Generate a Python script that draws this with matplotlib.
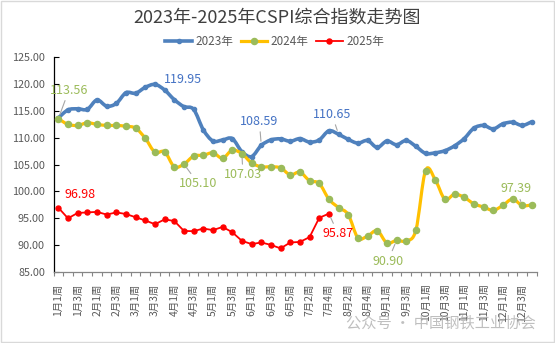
import numpy as np
import matplotlib
matplotlib.use("Agg")
from matplotlib import pyplot as plt
from matplotlib.path import Path
from matplotlib.patches import PathPatch, Rectangle
from matplotlib.lines import Line2D

plt.rcParams['font.family'] = ['Noto Sans CJK SC', 'DejaVu Sans']

# weekly categories: weeks per month
weeks_per_month = [4, 4, 4, 4, 4, 5, 4, 5, 4, 4, 4, 4]
week_labels = [f"{m + 1}月{w + 1}周" for m, n in enumerate(weeks_per_month) for w in range(n)]

cspi_2023 = [113.7, 115.2, 115.4, 115.3, 117.05, 115.9, 116.4, 118.4, 118.3, 119.4,
             119.95, 118.9, 117.1, 115.8, 115.3, 111.5, 109.4, 109.6, 109.85, 107.4,
             106.5, 108.59, 109.6, 109.8, 109.35, 109.85, 109.2, 109.6, 111.3, 110.65,
             109.7, 109.0, 109.5, 108.2, 109.4, 108.7, 109.5, 108.4, 107.1, 107.2,
             107.6, 108.5, 109.85, 111.8, 112.3, 111.65, 112.6, 112.9, 112.3, 113.0]
cspi_2024 = [113.56, 112.5, 112.3, 112.8, 112.5, 112.3, 112.3, 112.15, 111.8, 109.9,
             107.3, 107.4, 104.6, 105.10, 106.6, 106.75, 107.2, 106.2, 107.7, 107.03,
             105.3, 104.6, 104.6, 104.4, 103.1, 103.6, 102.0, 101.5, 98.55, 97.0,
             95.7, 91.35, 91.7, 92.7, 90.4, 90.90, 90.8, 92.8, 103.9, 102.2,
             98.55, 99.5, 98.9, 97.7, 97.1, 96.5, 97.4, 98.6, 97.39, 97.5]
cspi_2025 = [96.98, 95.0, 96.0, 96.1, 96.2, 95.7, 96.1, 95.8, 95.2, 94.6,
             93.9, 94.8, 94.5, 92.65, 92.6, 93.1, 92.8, 93.4, 92.4, 90.8,
             90.2, 90.5, 90.05, 89.4, 90.5, 90.6, 91.5, 95.1, 95.87]

# (week index, label x, label y, leader line)
labels_2023 = [(10, 12.9, 120.8, False), (21, 20.8, 113.1, True), (29, 28.3, 114.4, True)]
labels_2024 = [(0, 1.1, 118.9, True), (13, 14.5, 101.4, True), (19, 19.1, 103.1, True),
               (35, 34.1, 87.0, True), (48, 47.4, 100.5, True)]
labels_2025 = [(0, 2.3, 99.4, False), (28, 28.95, 92.1, True)]

BLUE = '#4F81BD'
GOLD = '#FFC000'
GREEN = '#9BBB59'
RED = '#FF0000'


def smooth_path(x, y):
    # Catmull-Rom style bezier through the data points
    p = np.column_stack([x, y]).astype(float)
    ext = np.vstack([p[0], p, p[-1]])
    verts = [p[0]]
    codes = [Path.MOVETO]
    for i in range(len(p) - 1):
        p0, p1, p2, p3 = ext[i], ext[i + 1], ext[i + 2], ext[i + 3]
        verts += [p1 + (p2 - p0) / 6, p2 - (p3 - p1) / 6, p2]
        codes += [Path.CURVE4] * 3
    return Path(verts, codes)


fig = plt.figure(figsize=(5.55, 3.43), dpi=100)
ax = fig.add_axes([0.0964, 0.207, 0.8706, 0.626])

x23 = np.arange(len(cspi_2023))
x24 = np.arange(len(cspi_2024))
x25 = np.arange(len(cspi_2025))

ax.add_patch(PathPatch(smooth_path(x23, cspi_2023), fc='none', ec=BLUE, lw=2.6,
                       capstyle='round', joinstyle='round', zorder=2))
ax.plot(x23, cspi_2023, ls='none', marker='o', ms=3.0, color=BLUE, zorder=2)

ax.add_patch(PathPatch(smooth_path(x24, cspi_2024), fc='none', ec=GOLD, lw=2.3,
                       capstyle='round', joinstyle='round', zorder=3))
ax.plot(x24, cspi_2024, ls='none', marker='o', ms=4.4, color=GREEN, zorder=3)

ax.plot(x25, cspi_2025, color=RED, lw=1.3, marker='o', ms=3.6, zorder=4)

# data labels
for series, color, items in [(cspi_2023, '#4472C4', labels_2023),
                             (cspi_2024, GREEN, labels_2024),
                             (cspi_2025, RED, labels_2025)]:
    for idx, tx, ty, leader in items:
        props = dict(arrowstyle='-', color='#A6A6A6', lw=0.8, shrinkA=1, shrinkB=3) if leader else None
        ax.annotate(f"{series[idx]:.2f}", xy=(idx, series[idx]), xytext=(tx, ty),
                    ha='center', va='center', fontsize=9, color=color,
                    arrowprops=props, zorder=5)

ax.set_xlim(-0.5, len(week_labels) - 0.5)
ax.set_ylim(85, 125)
ax.set_yticks(np.arange(85, 126, 5))
ax.set_yticklabels([f"{v:.2f}" for v in np.arange(85, 126, 5)])

ax.set_xticks(np.arange(-0.5, len(week_labels), 1))
ax.set_xticklabels([])
ax.set_xticks(np.arange(0, len(week_labels), 2), minor=True)
ax.set_xticklabels(week_labels[::2], minor=True, rotation=90)

ax.tick_params(axis='x', which='major', direction='out', length=3, color='#868686', width=0.8)
ax.tick_params(axis='x', which='minor', length=0, pad=8.2, labelsize=7.5, labelcolor='#595959')
ax.tick_params(axis='y', direction='in', length=3.5, width=0.8, pad=6.2, labelsize=7.8,
               labelcolor='#595959')

for s in ['top', 'right']:
    ax.spines[s].set_visible(False)
ax.spines['left'].set_color('black')
ax.spines['left'].set_linewidth(0.9)
ax.spines['bottom'].set_color('#868686')
ax.spines['bottom'].set_linewidth(0.9)

handles = [Line2D([], [], color=BLUE, lw=2.6, marker='o', ms=3.0),
           Line2D([], [], color=GOLD, lw=2.3, marker='o', ms=4.4, mfc=GREEN, mec=GREEN),
           Line2D([], [], color=RED, lw=1.3, marker='o', ms=3.6)]
fig.legend(handles, ['2023年', '2024年', '2025年'], loc='center', ncol=3,
           bbox_to_anchor=(0.495, 1 - 42 / 343), frameon=False, fontsize=8.4,
           handlelength=2.3, columnspacing=0.6, handletextpad=0.3, labelcolor='#595959')

fig.text(0.5, 1 - 18 / 343, '2023年-2025年CSPI综合指数走势图', ha='center', va='center',
         fontsize=13, color='#404040')

fig.text(441 / 555, 1 - 323 / 343, '公众号 · 中国钢铁工业协会', ha='center', va='center',
         fontsize=11, color='#B0B0B0', alpha=0.8, zorder=10)

fig.patches.append(Rectangle((0.001, 0.003), 0.997, 0.995, transform=fig.transFigure,
                             fill=False, ec='#D9D9D9', lw=1))

fig.savefig('out.png', dpi=100)
